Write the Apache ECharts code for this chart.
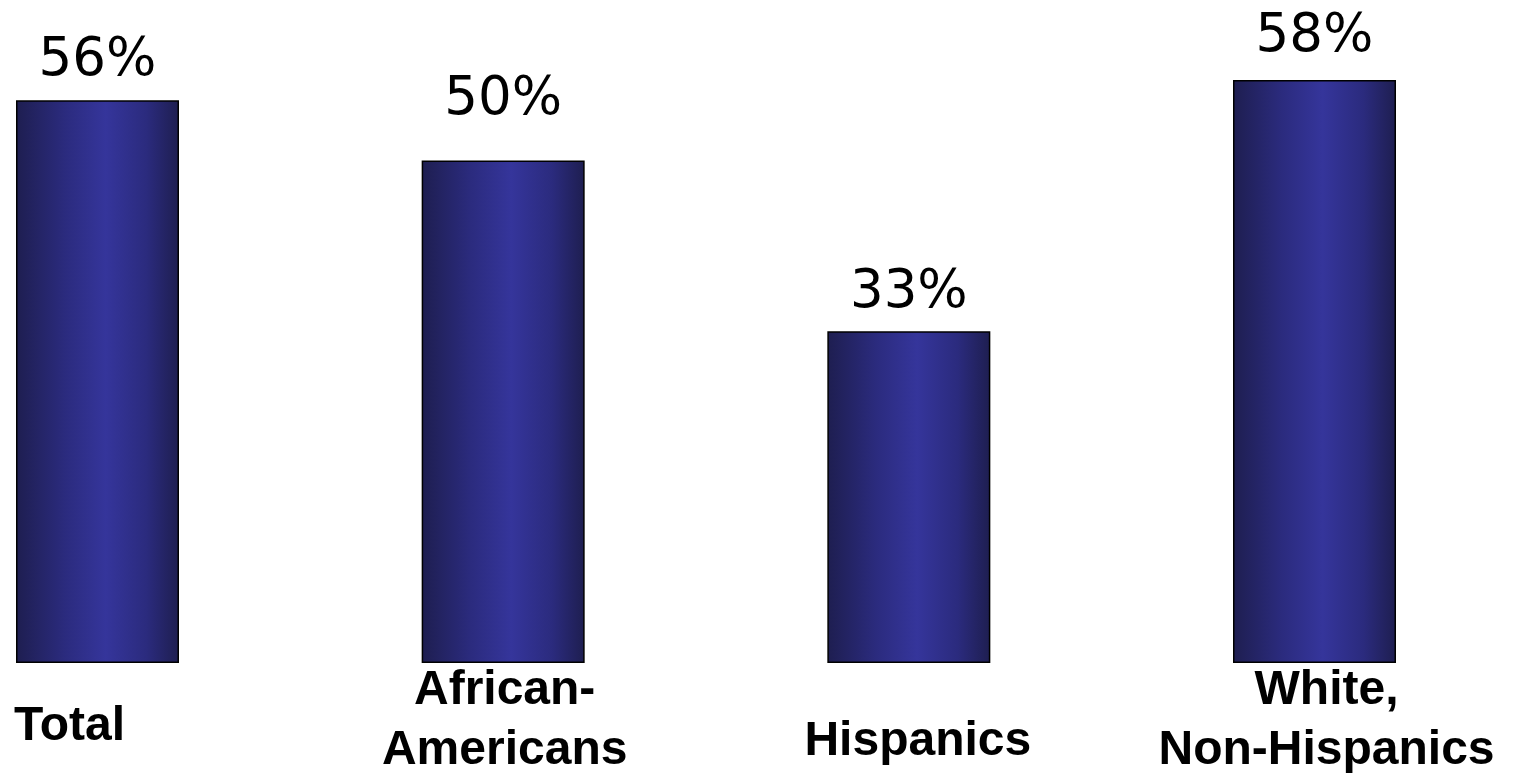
<!DOCTYPE html>
<html><head><meta charset="utf-8">
<script src="https://cdn.jsdelivr.net/npm/echarts@6/dist/echarts.min.js"></script>
<style>html,body{margin:0;padding:0;background:#fff;overflow:hidden}#c{width:1514px;height:773px}</style>
</head><body><div id="c"></div>
<script>
const categories = ['Total', 'African-\nAmericans', 'Hispanics', 'White,\nNon-Hispanics'];
const values = [56, 50, 33, 58];
const valueLabels = ['56%', '50%', '33%', '58%'];

const catStyles = [
  {padding: [34, 56, 0, 0]},
  {padding: [-2, 0, 0, 3]},
  {padding: [49, 0, 0, 18]},
  {padding: [-2, 0, 0, 24]}
];
const labelDist = [12, 34, 12, 16];

const chart = echarts.init(document.getElementById('c'));
chart.setOption({
  animation: false,
  grid: {left: 97.5, width: 1217, top: 60, height: 603, containLabel: false, outerBoundsMode: 'none'},
  xAxis: {
    type: 'category',
    boundaryGap: false,
    data: categories.map((c, i) => ({value: c, textStyle: catStyles[i]})),
    axisLine: {show: false}, axisTick: {show: false},
    axisLabel: {
      interval: 0, margin: 0,
      fontFamily: 'Liberation Sans', fontWeight: 'bold', fontSize: 48,
      lineHeight: 60, color: '#000', verticalAlign: 'top'
    }
  },
  yAxis: {
    type: 'value', min: 0, max: 60, show: false,
    splitLine: {show: false}
  },
  series: [{
    type: 'bar',
    barWidth: 163,
    data: values.map((v, i) => ({
      value: v,
      label: {distance: labelDist[i]}
    })),
    itemStyle: {
      borderColor: '#000', borderWidth: 1.5,
      color: new echarts.graphic.LinearGradient(0, 0, 1, 0, [
        {offset: 0, color: '#1e1e50'},
        {offset: 0.3, color: '#2b2b7e'},
        {offset: 0.55, color: '#35359b'},
        {offset: 0.8, color: '#2b2b7e'},
        {offset: 1, color: '#1e1e50'}
      ])
    },
    label: {
      show: true, position: 'top',
      formatter: p => valueLabels[p.dataIndex],
      fontFamily: 'DejaVu Sans', fontSize: 53, color: '#000'
    }
  }]
});
</script>
</body></html>
